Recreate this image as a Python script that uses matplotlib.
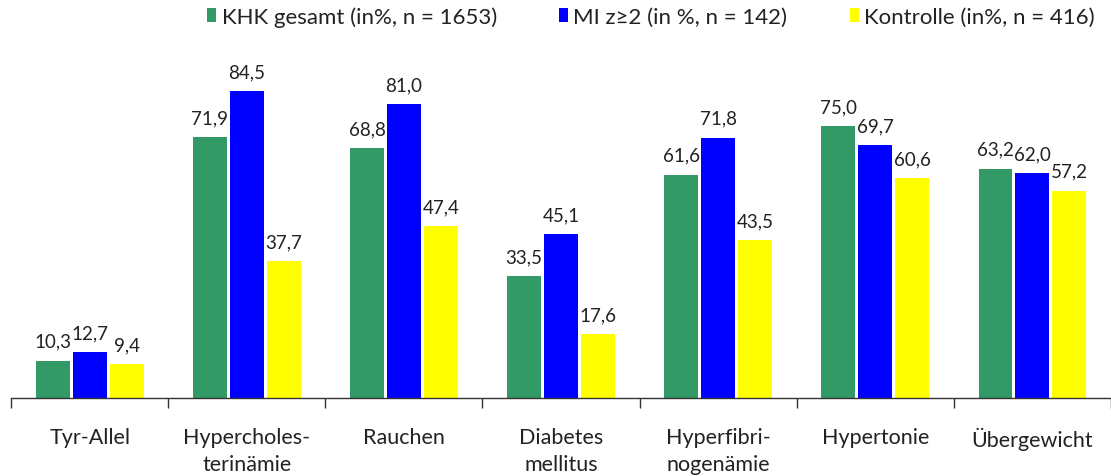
import matplotlib.pyplot as plt
import numpy as np

# Daten
kategorien = ['Tyr-Allel', 'Hypercholes-\nterinämie', 'Rauchen', 'Diabetes\nmellitus',
              'Hyperfibri-\nnogenämie', 'Hypertonie', 'Übergewicht']
khk = [10.3, 71.9, 68.8, 33.5, 61.6, 75.0, 63.2]
mi = [12.7, 84.5, 81.0, 45.1, 71.8, 69.7, 62.0]
kontrolle = [9.4, 37.7, 47.4, 17.6, 43.5, 60.6, 57.2]
serien_namen = ['KHK gesamt (in%, n = 1653)', 'MI z≥2 (in %, n = 142)', 'Kontrolle (in%, n = 416)']
farben = ['#339966', '#0000ff', '#ffff00']

plt.rcParams['font.family'] = ['Lato', 'DejaVu Sans']

fig = plt.figure(figsize=(11.11, 4.77), dpi=100)
ax = fig.add_axes([0.01, 1 - 399 / 477, 0.99, 399 / 477 - 0.0])

x = np.arange(len(kategorien))
breite = 0.216
abstand = 0.235
textfarbe = '#222222'

for i, (werte, farbe, name) in enumerate(zip([khk, mi, kontrolle], farben, serien_namen)):
    pos = x + (i - 1) * abstand
    bars = ax.bar(pos, werte, width=breite, color=farbe, label=name)
    for b, v in zip(bars, werte):
        ax.text(b.get_x() + b.get_width() / 2, v + 3, f'{v:.1f}'.replace('.', ','),
                ha='center', va='bottom', fontsize=13.5, color=textfarbe)

ax.set_xlim(-0.5, len(kategorien) - 0.5)
ax.set_ylim(0, 110)

for s in ['top', 'right', 'left']:
    ax.spines[s].set_visible(False)
ax.spines['bottom'].set_color('#333333')
ax.spines['bottom'].set_linewidth(1.0)
ax.set_yticks([])

# Ticks an den Gruppengrenzen
ax.set_xticks(np.arange(-0.5, len(kategorien), 1.0))
ax.set_xticklabels([])
ax.tick_params(axis='x', length=7, width=1.0, color='#333333', direction='out')

for xi, k in zip(x, kategorien):
    ax.text(xi, -8.0, k, ha='center', va='top', fontsize=15.5, color=textfarbe,
            linespacing=1.45, transform=ax.transData, clip_on=False)

ax.legend(loc='upper right', bbox_to_anchor=(1097 / 1111, 1 - 5 / 477), bbox_transform=fig.transFigure,
          ncol=3, frameon=False, fontsize=16, handlelength=0.4, handleheight=0.65,
          handletextpad=0.25, columnspacing=2.8, borderaxespad=0.0, borderpad=0.1,
          labelcolor=textfarbe)

fig.savefig('out.png', dpi=100)
